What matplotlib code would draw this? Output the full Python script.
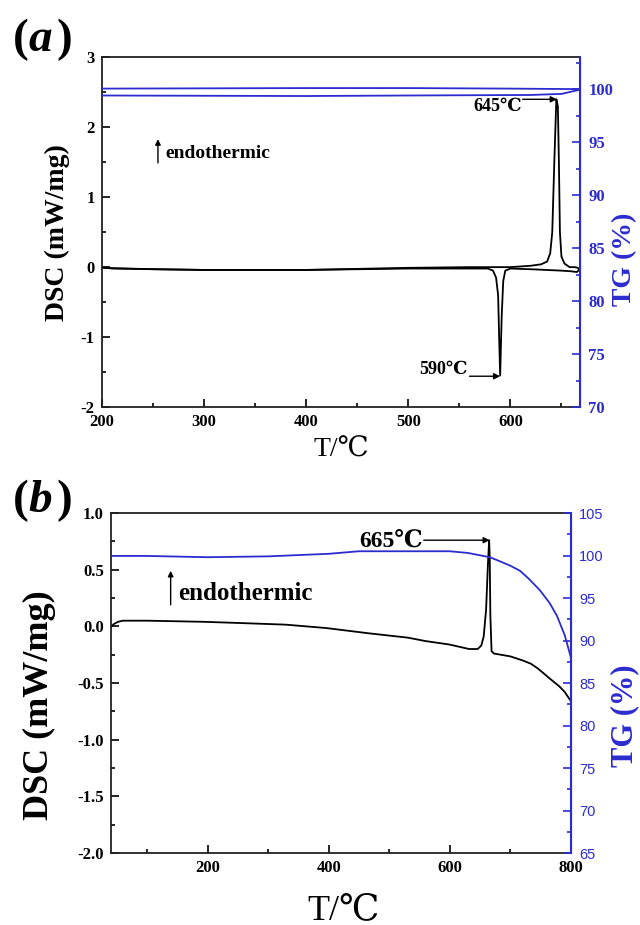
import numpy as np
import matplotlib
matplotlib.use('Agg')
import matplotlib.pyplot as plt
from matplotlib.ticker import MultipleLocator, FormatStrFormatter

SERIF = ['Liberation Serif', 'DejaVu Serif']
plt.rcParams['font.family'] = SERIF
plt.rcParams['font.weight'] = 'bold'
plt.rcParams['axes.unicode_minus'] = False
BLUE = '#2b2bd0'

# ---- panel (a) : heating / cooling loop ----
a_heat_T = [200, 250, 300, 400, 500, 560, 600, 620, 630, 636, 639, 641, 643, 645, 646.5,
            647.5, 648.5, 650, 653, 658, 663, 666, 667.5]
a_heat_dsc = [-0.01, -0.03, -0.04, -0.04, -0.01, 0.0, 0.0, 0.02, 0.04, 0.08, 0.2, 0.5, 1.5,
              2.4, 2.3, 1.5, 0.5, 0.15, 0.05, 0.0, 0.0, -0.01, -0.04]
a_cool_T = [667.5, 665, 660, 650, 620, 600, 595, 593, 591.5, 590, 589, 588, 586, 583, 578,
            500, 400, 300, 210, 200]
a_cool_dsc = [-0.04, -0.07, -0.06, -0.05, -0.03, -0.02, -0.05, -0.2, -0.7, -1.55, -1.0,
              -0.4, -0.15, -0.05, -0.02, -0.02, -0.04, -0.04, -0.02, 0.0]
a_tg_heat_T = [200, 400, 500, 620, 650, 668]
a_tg_heat = [99.4, 99.35, 99.4, 99.45, 99.55, 99.95]
a_tg_cool_T = [668, 600, 500, 400, 200]
a_tg_cool = [100.0, 100.05, 100.1, 100.1, 100.05]

# ---- panel (b) ----
b_T = [40, 45, 52, 60, 100, 194, 250, 329, 396, 464, 531, 560, 599, 632, 646, 652, 656,
       660, 663, 665, 666, 667, 669, 673, 700, 720, 734, 745, 754, 765, 781, 790, 800]
b_dsc = [-0.01, 0.02, 0.04, 0.05, 0.05, 0.04, 0.03, 0.015, -0.015, -0.06, -0.10, -0.13,
         -0.16, -0.2, -0.2, -0.17, -0.09, 0.15, 0.55, 0.76, 0.6, 0.1, -0.22, -0.24, -0.265,
         -0.30, -0.33, -0.37, -0.41, -0.46, -0.53, -0.58, -0.66]
b_tg_T = [40, 100, 200, 300, 400, 450, 500, 600, 630, 666, 680, 700, 716, 730, 749, 765,
          777, 790, 800]
b_tg = [99.95, 99.95, 99.8, 99.9, 100.2, 100.5, 100.5, 100.5, 100.3, 99.8, 99.4, 98.8,
        98.2, 97.3, 95.9, 94.4, 92.9, 90.6, 88.0]

fig = plt.figure(figsize=(6.4, 9.25), dpi=100)


def style_axes(ax, ax2, xmaj, xmin, ymaj, ymin, y2maj, y2min):
    ax.xaxis.set_major_locator(MultipleLocator(xmaj))
    ax.xaxis.set_minor_locator(MultipleLocator(xmin))
    ax.yaxis.set_major_locator(MultipleLocator(ymaj))
    ax.yaxis.set_minor_locator(MultipleLocator(ymin))
    ax.tick_params(which='both', direction='in', top=False, right=False, width=1.2)
    ax.tick_params(which='major', length=6, labelsize=12, pad=5)
    ax.tick_params(which='minor', length=3)
    ax2.yaxis.set_major_locator(MultipleLocator(y2maj))
    ax2.yaxis.set_minor_locator(MultipleLocator(y2min))
    ax2.tick_params(which='both', direction='in', colors=BLUE, width=1.2)
    ax2.tick_params(which='major', length=6, pad=6)
    ax2.tick_params(which='minor', length=3)
    for s in ['left', 'bottom', 'top']:
        ax.spines[s].set_linewidth(1.3)
        ax.spines[s].set_color('#222222')
    ax2.spines['right'].set_color(BLUE)
    ax2.spines['right'].set_linewidth(1.5)
    for s in ['left', 'bottom', 'top']:
        ax2.spines[s].set_visible(False)


arr = dict(arrowstyle='-|>', color='black', lw=1.0, mutation_scale=9, shrinkA=0, shrinkB=0)
up = dict(arrowstyle='-|>', color='black', lw=1.0, mutation_scale=8, shrinkA=0, shrinkB=0)


def panel_letter(y, letter):
    fig.text(0.02, y, '(', fontsize=34, fontweight='bold', ha='left', va='center')
    fig.text(0.045, y, letter, fontsize=34, fontweight='bold', style='italic',
             ha='left', va='center')
    fig.text(0.088, y, ')', fontsize=34, fontweight='bold', ha='left', va='center')


# ================= (a) =================
ax = fig.add_axes([0.159, 0.560, 0.747, 0.378])
ax2 = ax.twinx()
ax.plot(a_heat_T, a_heat_dsc, color='black', lw=1.3)
ax.plot(a_cool_T, a_cool_dsc, color='black', lw=1.3)
ax2.plot(a_tg_heat_T, a_tg_heat, color=BLUE, lw=1.3)
ax2.plot(a_tg_cool_T, a_tg_cool, color=BLUE, lw=1.3)
ax.set_xlim(200, 668)
ax.set_ylim(-2, 3)
ax2.set_ylim(70, 103)
style_axes(ax, ax2, 100, 50, 1, 0.5, 5, 2.5)
for lab in ax2.get_yticklabels():
    lab.set_fontsize(12)
    lab.set_fontweight('bold')

ax.annotate('', xy=(645.5, 2.4), xytext=(612, 2.4), arrowprops=arr)
ax.text(611, 2.3, '645℃', fontsize=13, ha='right', va='center')
ax.annotate('', xy=(590, -1.56), xytext=(560, -1.56), arrowprops=arr)
ax.text(558, -1.46, '590℃', fontsize=13, ha='right', va='center')
ax.annotate('', xy=(255, 1.83), xytext=(255, 1.49), arrowprops=up)
ax.text(262, 1.63, 'endothermic', fontsize=14, ha='left', va='center')

panel_letter(0.957, 'a')
fig.text(0.089, 0.749, 'DSC (mW/mg)', fontsize=20, fontweight='bold', rotation=90,
         ha='center', va='center')
fig.text(0.533, 0.513, 'T/℃', fontsize=20, fontweight='normal', ha='center', va='center')
fig.text(0.976, 0.72, 'TG (%)', fontsize=20, fontweight='bold', rotation=90, color=BLUE,
         ha='center', va='center')

# ================= (b) =================
bx = fig.add_axes([0.173, 0.0778, 0.719, 0.3676])
bx2 = bx.twinx()
bx.plot(b_T, b_dsc, color='black', lw=1.3)
bx2.plot(b_tg_T, b_tg, color=BLUE, lw=1.3)
bx.set_xlim(40, 800)
bx.set_ylim(-2.0, 1.0)
bx2.set_ylim(65, 105)
style_axes(bx, bx2, 200, 100, 0.5, 0.25, 5, 2.5)
bx.yaxis.set_major_formatter(FormatStrFormatter('%.1f'))
for lab in bx2.get_yticklabels():
    lab.set_fontsize(10.5)
    lab.set_fontweight('normal')
    lab.set_family(['Liberation Sans', 'DejaVu Sans'])

bx.annotate('', xy=(666, 0.76), xytext=(557, 0.76), arrowprops=arr)
bx.text(555, 0.75, '665℃', fontsize=17, ha='right', va='center')
bx.annotate('', xy=(139, 0.49), xytext=(139, 0.19), arrowprops=up)
bx.text(152, 0.29, 'endothermic', fontsize=18, ha='left', va='center')

panel_letter(0.458, 'b')
fig.text(0.061, 0.238, 'DSC (mW/mg)', fontsize=26, fontweight='bold', rotation=90,
         ha='center', va='center')
fig.text(0.537, 0.016, 'T/℃', fontsize=26, fontweight='normal', ha='center', va='center')
fig.text(0.976, 0.226, 'TG (%)', fontsize=22, fontweight='bold', rotation=90, color=BLUE,
         ha='center', va='center')

fig.savefig('out.png', dpi=100)
